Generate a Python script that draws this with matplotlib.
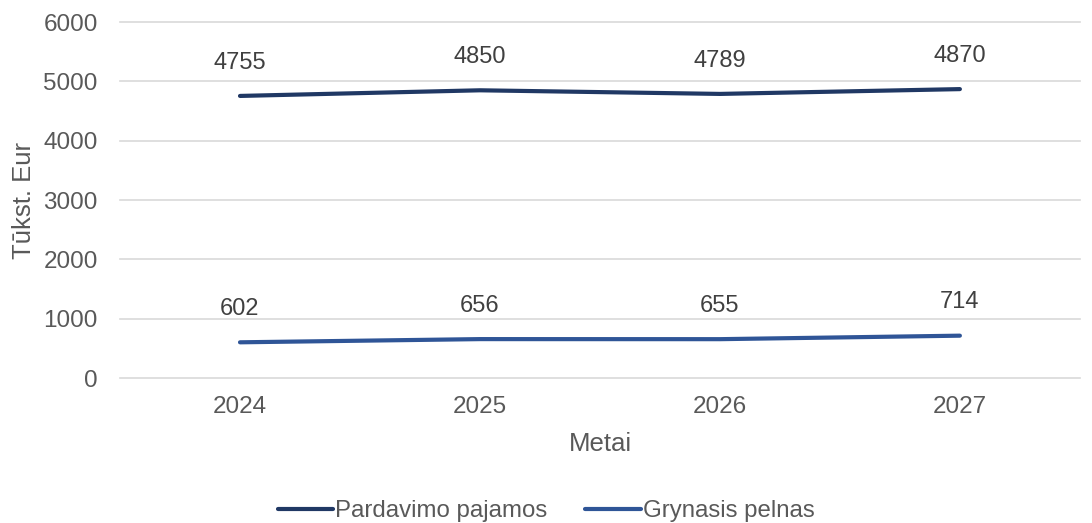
import matplotlib.pyplot as plt

plt.rcParams['font.family'] = ['Liberation Sans', 'DejaVu Sans']

years = ['2024', '2025', '2026', '2027']
pardavimo_pajamos = [4755, 4850, 4789, 4870]
grynasis_pelnas = [602, 656, 655, 714]

series = [
	('Pardavimo pajamos', pardavimo_pajamos, '#203864'),
	('Grynasis pelnas', grynasis_pelnas, '#2F5597'),
]

fig = plt.figure(figsize=(10.92, 5.23), dpi=100)
ax = fig.add_axes([0.1099, 0.2772, 0.879, 0.6806])

x = list(range(len(years)))
for name, values, color in series:
	ax.plot(x, values, color=color, linewidth=3, solid_capstyle='round', label=name)
	for xi, v in zip(x, values):
		ax.annotate(str(v), (xi, v), xytext=(0, 24), textcoords='offset points',
			ha='center', va='center', fontsize=17, color='#404040')

ax.set_xlim(-0.5, len(years) - 0.5)
ax.set_ylim(0, 6000)
ax.set_yticks(range(0, 6001, 1000))
ax.set_xticks(x)
ax.set_xticklabels(years)
ax.tick_params(length=0, labelsize=17.5, labelcolor='#595959')
ax.tick_params(axis='x', pad=13)
ax.tick_params(axis='y', pad=16)
ax.grid(axis='y', color='#D9D9D9', linewidth=1.2)
for gl in ax.get_ygridlines():
	gl.set_clip_on(False)
ax.set_axisbelow(True)
for s in ax.spines.values():
	s.set_visible(False)

ax.set_xlabel('Metai', fontsize=18.5, color='#595959', labelpad=10)
ax.set_ylabel('Tūkst. Eur', fontsize=18.5, color='#595959', labelpad=5)

leg = fig.legend(loc='lower center', bbox_to_anchor=(0.5, -0.04), ncol=2, frameon=False,
	fontsize=17.3, handlelength=2.3, handletextpad=0.08, columnspacing=1.6)
for t in leg.get_texts():
	t.set_color('#595959')

fig.savefig('out.png', dpi=100)
